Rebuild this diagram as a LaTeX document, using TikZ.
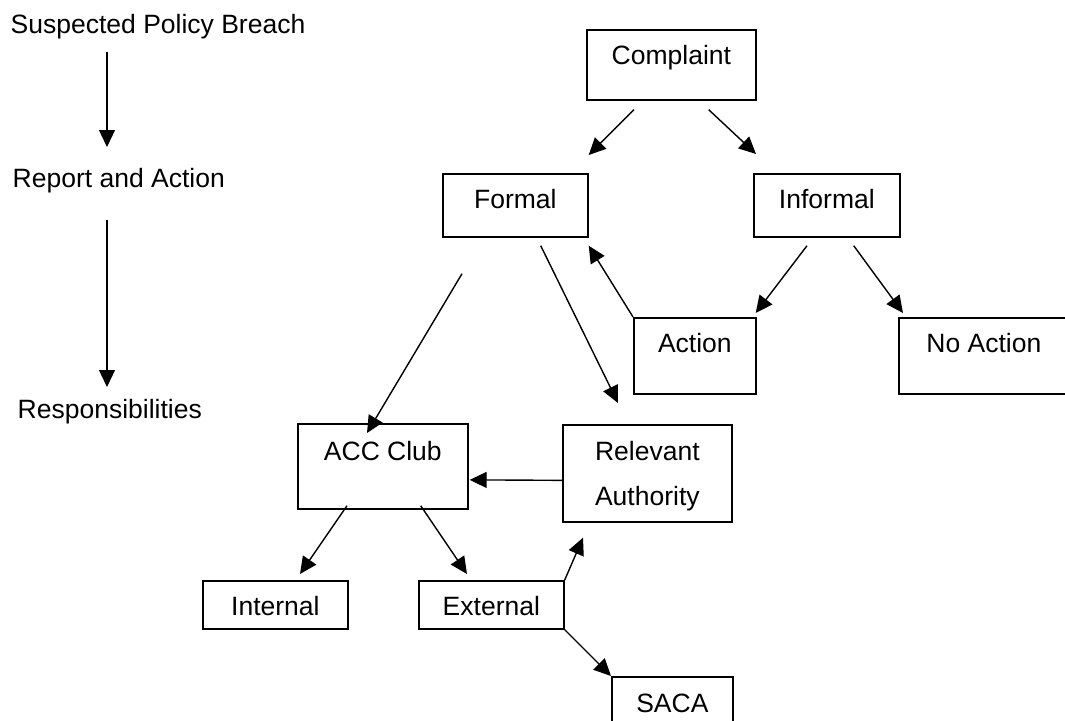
\documentclass[tikz,border=0pt]{standalone}
\usepackage{fontspec}
\setmainfont{Liberation Sans}
\usetikzlibrary{arrows.meta,calc}

\begin{document}
\begin{tikzpicture}[x=1pt, y=-1pt, ->, >={Triangle[length=17pt,width=16pt]}, line width=1.4pt,
  font=\fontsize{26.5}{45}\selectfont]
\tikzstyle{box}=[draw, line width=1.7pt, rectangle, anchor=north west, inner sep=0pt, text height=35pt]
\tikzstyle{lbl}=[anchor=base west, inner sep=0pt]
\useasboundingbox (0,0) rectangle (1065,720);

% left column
\node[lbl] (susp) at (10,33)  {Suspected Policy Breach};
\node[lbl] (rep)  at (12,187) {Report and Action};
\node[lbl] (resp) at (17,418) {Responsibilities};

% boxes
\node[box, minimum width=169pt, text depth=35pt] (cmp)  at (586,29)  {Complaint};
\node[box, minimum width=145pt, text depth=28pt] (frm)  at (442,173) {Formal};
\node[box, minimum width=146pt, text depth=28pt] (inf)  at (753,173) {Informal};
\node[box, minimum width=122pt, text depth=41pt] (act)  at (633,317) {Action};
\node[box, minimum width=170pt, text depth=41pt] (nact) at (898,317) {No Action};
\node[box, minimum width=170pt, text height=37pt, text depth=48pt] (acc) at (297,423) {ACC Club};
\node[box, minimum width=169pt, text height=36pt, text depth=61pt] (rel) at (562,424)
  {\parbox[t]{169pt}{\centering Relevant\\Authority}};
\node[box, minimum width=145pt, text depth=13pt] (int)  at (202,580) {Internal};
\node[box, minimum width=145pt, text depth=13pt] (ext)  at (418,580) {External};
\node[box, minimum width=121pt, text height=36pt, text depth=20pt] (saca) at (611,676) {SACA};

\path
($(susp.base west)+(97,19)$)  edge ($(rep.base west)+(95,-40)$)
($(rep.base west)+(95,33)$)   edge ($(resp.base west)+(90,-31)$)
($(cmp.south west)+(48,9)$)   edge ($(frm.north east)+(0,-18)$)
($(cmp.south east)+(-48,9)$)  edge ($(inf.north west)+(3,-19)$)
($(inf.south west)+(54,8)$)   edge ($(act.north east)+(-1,-4)$)
($(inf.south east)+(-47,8)$)  edge ($(nact.north west)+(5,-4)$)
(act.north west)              edge ($(frm.south east)+(0,8)$)
($(frm.south west)+(20,36)$)  edge ($(acc.north west)+(70,10)$)
($(frm.south east)+(-48,8)$)  edge ($(rel.north west)+(56,-21)$)
($(rel.west)+(0,7)$)          edge ($(acc.east)+(1,13.5)$)
($(acc.south west)+(50,-4)$)  edge ($(int.north west)+(98,-6)$)
($(acc.south east)+(-48,-4)$) edge ($(ext.north west)+(49,-6)$)
(ext.north east)              edge ($(rel.south west)+(21,15)$)
(ext.south east)              edge (saca.north west);
\end{tikzpicture}
\end{document}
